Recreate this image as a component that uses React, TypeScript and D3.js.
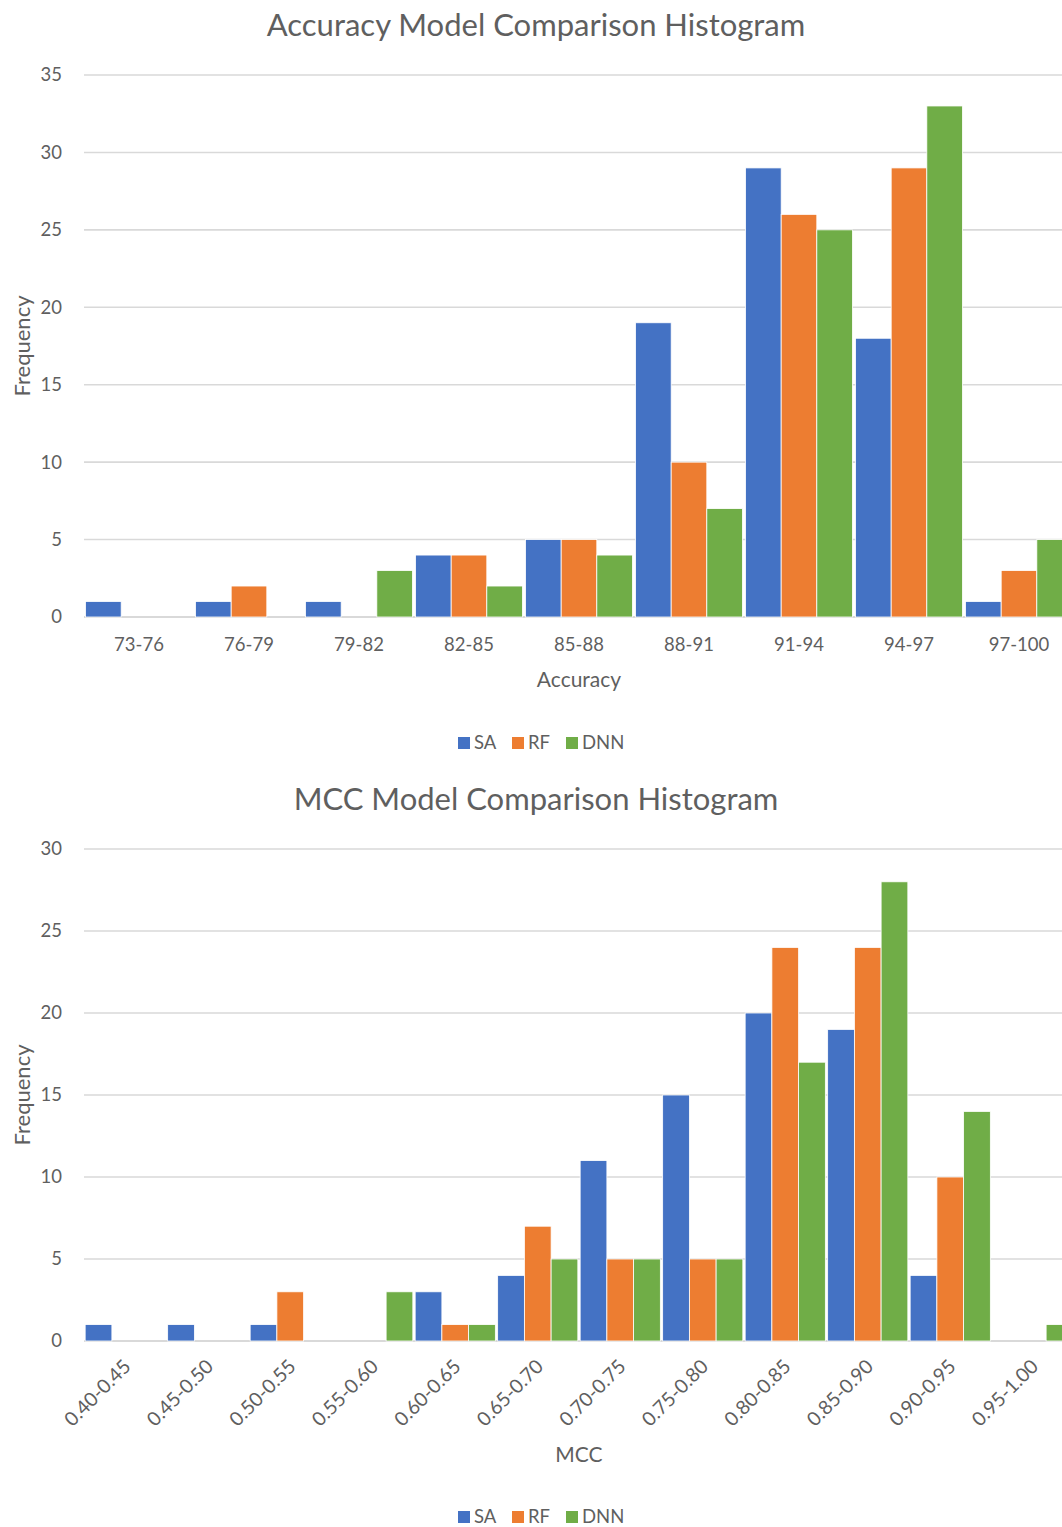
import React from "react";
import * as d3 from "d3";

const seriesNames = ["SA", "RF", "DNN"];
const seriesColors = ["#4472C4", "#ED7D31", "#70AD47"];

const accCategories = ["73-76", "76-79", "79-82", "82-85", "85-88", "88-91", "91-94", "94-97", "97-100"];
const accSA = [1, 1, 1, 4, 5, 19, 29, 18, 1];
const accRF = [0, 2, 0, 4, 5, 10, 26, 29, 3];
const accDNN = [0, 0, 3, 2, 4, 7, 25, 33, 5];
const accTicks = [0, 5, 10, 15, 20, 25, 30, 35];

const mccCategories = ["0.40-0.45", "0.45-0.50", "0.50-0.55", "0.55-0.60", "0.60-0.65", "0.65-0.70", "0.70-0.75", "0.75-0.80", "0.80-0.85", "0.85-0.90", "0.90-0.95", "0.95-1.00"];
const mccSA = [1, 1, 1, 0, 3, 4, 11, 15, 20, 19, 4, 0];
const mccRF = [0, 0, 3, 0, 1, 7, 5, 5, 24, 24, 10, 0];
const mccDNN = [0, 0, 0, 3, 1, 5, 5, 5, 17, 28, 14, 1];
const mccTicks = [0, 5, 10, 15, 20, 25, 30];

const FONT = "Lato, 'Open Sans', sans-serif";
const TEXT = "#5f5f5f";
const GRID = "#D9D9D9";

type ChartProps = {
  title: string;
  xTitle: string;
  categories: string[];
  values: number[][];
  ticks: number[];
  top: number;
  bottom: number;
  titleY: number;
  xTitleY: number;
  legendY: number;
  rotate: boolean;
};

function Chart(p: ChartProps) {
  const left = 84;
  const right = 1074;
  const maxT = p.ticks[p.ticks.length - 1];
  const y = d3.scaleLinear().domain([0, maxT]).range([p.bottom, p.top]);
  const x0 = d3.scaleBand<string>().domain(p.categories).range([left, right]).paddingInner(0.028).paddingOuter(0.014);
  const x1 = d3.scaleBand<string>().domain(seriesNames).range([0, x0.bandwidth()]);
  const cx = (left + right) / 2;

  const legendItems = [
    { name: "SA", x: 458 },
    { name: "RF", x: 512 },
    { name: "DNN", x: 566 },
  ];

  return (
    <g fontFamily={FONT} fill={TEXT}>
      <text x={536} y={p.titleY} textAnchor="middle" fontSize={31} fill={TEXT}>{p.title}</text>
      {p.ticks.map((t) => (
        <g key={t}>
          <line x1={left} x2={right} y1={y(t)} y2={y(t)} stroke={GRID} strokeWidth={t === 0 ? 2 : 1.6} />
          <text x={62} y={y(t)} dy="0.35em" textAnchor="end" fontSize={18.5}>{t}</text>
        </g>
      ))}
      {p.categories.map((c, i) => (
        <g key={c} transform={`translate(${x0(c)},0)`}>
          {seriesNames.map((s, j) => {
            const v = p.values[j][i];
            if (v <= 0) return null;
            return (
              <rect key={s} x={x1(s)} width={x1.bandwidth()} y={y(v)} height={y(0) - y(v)}
                fill={seriesColors[j]} stroke="#ffffff" strokeWidth={0.8} />
            );
          })}
        </g>
      ))}
      {p.categories.map((c) => {
        const gx = (x0(c) as number) + x0.bandwidth() / 2;
        if (p.rotate) {
          return (
            <text key={c} transform={`translate(${gx + 2},${p.bottom + 22}) rotate(-45)`} textAnchor="end" dy="0.35em" fontSize={19.5}>{c}</text>
          );
        }
        return (
          <text key={c} x={gx} y={p.bottom + 28} dy="0.35em" textAnchor="middle" fontSize={18.5}>{c}</text>
        );
      })}
      <text x={cx} y={p.xTitleY} dy="0.35em" textAnchor="middle" fontSize={21}>{p.xTitle}</text>
      <text transform={`translate(22,${(p.top + p.bottom) / 2}) rotate(-90)`} dy="0.35em" textAnchor="middle" fontSize={22}>Frequency</text>
      {legendItems.map((l, k) => (
        <g key={l.name}>
          <rect x={l.x} y={p.legendY - 6} width={12} height={12} fill={seriesColors[k]} />
          <text x={l.x + 16} y={p.legendY} dy="0.35em" fontSize={18.5}>{l.name}</text>
        </g>
      ))}
    </g>
  );
}

export default function App() {
  return (
    <svg width={1062} height={1527} style={{ position: "absolute", left: 0, top: 0, background: "#fff" }}>
      <rect width={1062} height={1527} fill="#fff" />
      <Chart title="Accuracy Model Comparison Histogram" xTitle="Accuracy" categories={accCategories}
        values={[accSA, accRF, accDNN]} ticks={accTicks} top={75} bottom={617} titleY={36}
        xTitleY={680} legendY={743} rotate={false} />
      <Chart title="MCC Model Comparison Histogram" xTitle="MCC" categories={mccCategories}
        values={[mccSA, mccRF, mccDNN]} ticks={mccTicks} top={849} bottom={1341} titleY={810}
        xTitleY={1455} legendY={1517} rotate={true} />
    </svg>
  );
}
